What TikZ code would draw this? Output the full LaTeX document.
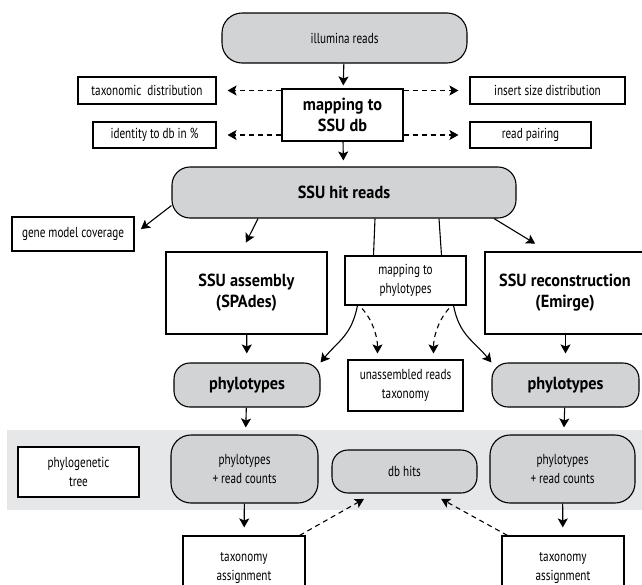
\documentclass[tikz,border=0pt]{standalone}
\usepackage{fontspec}
\setmainfont{PT Sans}[FakeStretch=0.77,BoldFeatures={FakeStretch=0.93}]
\usetikzlibrary{arrows.meta}
\definecolor{boxgray}{HTML}{D1D3D4}
\definecolor{bandgray}{HTML}{E6E7E8}

\begin{document}
\begin{tikzpicture}[x=1pt,y=-1pt,
    box/.style={draw,line width=1.1pt,fill=white,align=center,inner sep=0pt,
      font=\fontsize{14.5}{19}\selectfont},
    rbox/.style={box,fill=boxgray,rounded corners=16pt},
    main/.style={font=\fontsize{17.5}{21}\selectfont\bfseries},
    arr/.style={line width=1.1pt,-{Stealth[length=9pt,width=10pt,inset=2pt]}},
    darr/.style={arr,dash pattern=on 5pt off 4pt}]
  \clip (0,0) rectangle (642,584);
  \fill[bandgray] (7,430) rectangle (642,510);

  % reads and first mapping
  \node[rbox,rounded corners=20pt,minimum width=245pt,minimum height=50pt] (ill) at (344.5,38) {illumina reads};
  \node[box,main,minimum width=121pt,minimum height=52pt] (map) at (342.5,115) {mapping to\\SSU db};
  \node[box,minimum width=138pt,minimum height=27pt] (tax) at (147,90.5) {taxonomic\ \ distribution};
  \node[box,minimum width=155pt,minimum height=27pt] (ins) at (547.5,90.5) {insert size distribution};
  \node[box,minimum width=123pt,minimum height=26pt] (ident) at (154.5,135) {identity to db in \%};
  \node[box,minimum width=121pt,minimum height=26pt] (pair) at (530.5,135) {read pairing};

  % hits and the three ways
  \node[rbox,main,rounded corners=18pt,minimum width=344pt,minimum height=51pt] (ssu) at (344,192.5) {SSU hit reads};
  \node[box,minimum width=122pt,minimum height=34pt] (gene) at (73,234) {gene model coverage};
  \node[box,main,minimum width=161pt,minimum height=82pt] (asm) at (246.5,293) {SSU assembly\\(SPAdes)};
  \node[box,minimum width=121pt,minimum height=49pt] (mpt) at (405.5,280.5) {mapping to\\phylotypes};
  \node[box,main,minimum width=160pt,minimum height=82pt] (rec) at (565,293) {SSU reconstruction\\(Emirge)};

  \node[rbox,main,minimum width=146pt,minimum height=44pt] (phl) at (247,385) {phylotypes};
  \node[box,minimum width=115pt,minimum height=51pt] (una) at (405.5,385.5) {unassembled reads\\taxonomy};
  \node[rbox,main,minimum width=147pt,minimum height=44pt] (phr) at (565.5,385) {phylotypes};

  % band
  \node[box,minimum width=121pt,minimum height=50pt] (tree) at (78.5,472) {phylogenetic\\tree};
  \node[rbox,rounded corners=20pt,minimum width=147pt,minimum height=68pt] (cl) at (244.5,469) {phylotypes\\+ read counts};
  \node[rbox,minimum width=145pt,minimum height=43pt] (db) at (404.5,471.5) {db hits};
  \node[rbox,rounded corners=20pt,minimum width=145pt,minimum height=68pt] (cr) at (562.5,469) {phylotypes\\+ read counts};
  \node[box,minimum width=122pt,minimum height=64pt] (tal) at (244,568) {taxonomy\\assignment};
  \node[box,minimum width=122pt,minimum height=64pt] (tar) at (563,568) {taxonomy\\assignment};

  \draw[arr,shorten >=3pt] (ill) -- (map);
  \draw[darr,shorten >=11pt] (map.west |- tax.east) -- (tax.east);
  \draw[darr,shorten >=11pt] (map.west |- ident.east) -- (ident.east);
  \draw[darr,shorten >=11pt] (map.east |- ins.west) -- (ins.west);
  \draw[darr,shorten >=11pt] (map.east |- pair.west) -- (pair.west);
  \draw[arr,shorten >=6pt] (map) -- (ssu);

  \draw[arr,shorten >=8pt] ([yshift=13pt]ssu.south west) -- (gene.east);
  \draw[arr,shorten >=10pt] ([xshift=-86pt]ssu.south) -- ([xshift=-5pt]asm.north);
  \draw[arr,shorten >=15pt] ([xshift=150pt]ssu.south) -- ([xshift=-17pt]rec.north);
  \draw[line width=1.1pt] ([xshift=31pt]ssu.south) -- ([xshift=-32pt]mpt.north);
  \draw[line width=1.1pt] ([xshift=95pt]ssu.south) -- ([xshift=36pt]mpt.north);
  \draw[arr] ([xshift=-48pt]mpt.south) .. controls +(-6,30) and +(18,-22) .. (phl.north east);
  \draw[arr] ([xshift=48pt]mpt.south) .. controls +(6,30) and +(-18,-22) .. (phr.north west);
  \draw[darr,shorten <=4pt,shorten >=6pt] ([xshift=-46pt]mpt.south) .. controls +(14,16) and +(0,-22) .. ([xshift=-28pt]una.north);
  \draw[darr,shorten <=4pt,shorten >=6pt] ([xshift=46pt]mpt.south) .. controls +(-14,16) and +(0,-22) .. ([xshift=28pt]una.north);

  \draw[arr,shorten >=9pt] (asm) -- (phl);
  \draw[arr,shorten >=9pt] (rec.south -| phr.north) -- (phr.north);
  \draw[arr,shorten >=7pt] (phl) -- (cl);
  \draw[arr,shorten >=7pt] (phr) -- (cr);
  \draw[arr,shorten >=8pt] (cl) -- (tal);
  \draw[arr,shorten >=8pt] (cr) -- (tar);
  \draw[darr,shorten >=11pt] ([xshift=-6pt]tal.north east) -- ([xshift=-31pt]db.south);
  \draw[darr,shorten >=11pt] ([xshift=6pt]tar.north west) -- ([xshift=27pt]db.south);
\end{tikzpicture}
\end{document}
